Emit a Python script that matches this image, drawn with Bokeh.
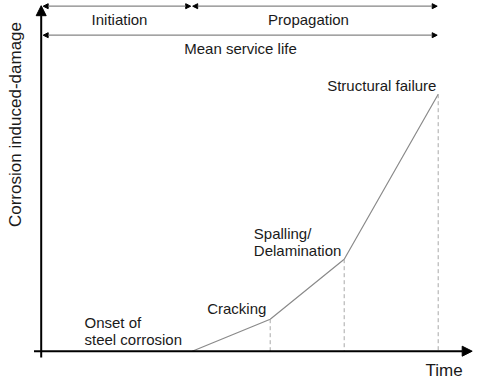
from bokeh.plotting import figure
from bokeh.models import Arrow, NormalHead, Range1d
from bokeh.core.properties import value
from bokeh.embed import file_html
from bokeh.resources import INLINE

# ---- data (arbitrary conceptual units) ----
stages = ["Onset of steel corrosion", "Cracking", "Spalling/Delamination", "Structural failure"]
time = [151, 229, 303, 397]
damage = [0, 32, 92, 257]

FONT = value("Liberation Sans")
TXT = "#1a1a1a"

p = figure(width=483, height=385,
           x_range=Range1d(-40.7, 442.3), y_range=Range1d(-34.3, 350.7),
           output_backend="svg", toolbar_location=None, min_border=0,
           x_axis_location=None, y_axis_location=None)
p.grid.visible = False
p.outline_line_color = None
p.background_fill_color = "white"
p.border_fill_color = "white"

# damage curve
p.line(time, damage, line_color="#8a8a8a", line_width=1.2)
# dashed drop lines
p.segment(x0=time[1:], y0=damage[1:], x1=time[1:], y1=[0] * (len(time) - 1),
          line_color="#a8a8a8", line_width=1, line_dash="4 3")

# axes with arrows
p.add_layout(Arrow(x_start=0, y_start=-6.3, x_end=0, y_end=345.5,
                   line_color="black", line_width=2,
                   end=NormalHead(size=10, fill_color="black", line_color="black")))
p.add_layout(Arrow(x_start=-7.2, y_start=0, x_end=time[-1] + 34, y_end=0,
                   line_color="black", line_width=2,
                   end=NormalHead(size=10, fill_color="black", line_color="black")))

# period arrows
def period(x0, x1, y):
    p.add_layout(Arrow(x_start=x0, y_start=y, x_end=x1, y_end=y,
                       line_color="#858585", line_width=1.2,
                       start=NormalHead(size=5, fill_color="black", line_color="black"),
                       end=NormalHead(size=5, fill_color="black", line_color="black")))

period(2, time[0] - 1.5, 345.0)
period(time[0] + 0.5, time[-1] - 1, 345.0)
period(2, time[-1] - 1, 316.0)

# labels: (text, x, y, align, size)
labels = [
    ("Initiation", 78.3, 331.4, "center", "15px"),
    ("Propagation", 267.3, 331.4, "center", "15px"),
    ("Mean service life", 199.3, 302.7, "center", "15px"),
    ("Onset of", 43.3, 29.0, "left", "15px"),
    ("steel corrosion", 43.3, 11.7, "left", "15px"),
    ("Cracking", 166.0, 42.7, "left", "15px"),
    ("Spalling/", 212.6, 117.7, "left", "15px"),
    ("Delamination", 212.6, 100.7, "left", "15px"),
    ("Structural failure", 286.0, 265.7, "left", "15px"),
    ("Time", 384.3, -19.3, "left", "17px"),
]
for t, x, y, al, sz in labels:
    p.text(x=[x], y=[y], text=[t], text_align=al, text_baseline="middle",
           text_font=FONT, text_font_size=sz, text_color=TXT)

p.text(x=[-25.7], y=[226.7], text=["Corrosion induced-damage"], angle=1.5707963,
       text_align="center", text_baseline="middle",
       text_font=FONT, text_font_size="17px", text_color=TXT)

open("out.html", "w").write(file_html(p, INLINE))
